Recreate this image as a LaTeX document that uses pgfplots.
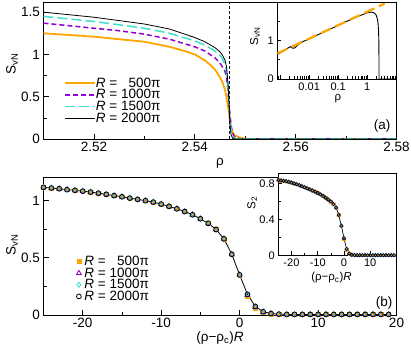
\documentclass[border=0pt]{standalone}
\usepackage{fontspec}
\setmainfont{Liberation Sans}
\usepackage{pgfplots}
\usepackage{pgfplotstable}
\pgfplotsset{compat=1.18}

\definecolor{corange}{HTML}{FFA500}
\definecolor{cpurple}{HTML}{9400D3}
\definecolor{ccyan}{HTML}{40E0D0}

\newcommand{\Svn}{S\textsubscript{vN}}
\newcommand{\ft}[1]{\fontsize{#1}{#1}\selectfont}

\pgfplotsset{
  gp/.style={scale only axis, anchor=south west,
    axis line style={line width=0.8pt}, tick style={line width=0.6pt, black},
    major tick length=5pt, minor tick length=3pt, tick align=inside,
    xtick pos=bottom, ytick pos=left,
    /pgf/number format/assume math mode=true,
    tick label style={font=\ft{13.5}}, label style={font=\ft{13.5}},
    clip mode=individual},
  gpin/.style={gp, axis background/.style={fill=white},
    tick label style={font=\ft{11}}, label style={font=\ft{11.5}},
    major tick length=4pt, minor tick length=2.5pt},
  lineleg/.style={legend image code/.code={\draw[##1] (0pt,0pt) -- (30pt,0pt);}},
  markleg/.style={legend image code/.code={
      \path[draw=none, fill=none] (0pt,-1pt) rectangle (10pt,1pt);
      \draw[##1] plot coordinates {(5pt,0pt)};}},
}

% collapsed data, S_vN against (rho-rho_c)R
\pgfplotstableread{
u    a     b     c     d
-25 1.114 1.114 1.114 1.114
-24 1.108 1.108 1.108 1.108
-23 1.102 1.102 1.102 1.102
-22 1.094 1.094 1.094 1.094
-21 1.088 1.088 1.088 1.088
-20 1.081 1.081 1.081 1.081
-19 1.073 1.073 1.073 1.073
-18 1.063 1.063 1.063 1.063
-17 1.053 1.053 1.053 1.053
-16 1.042 1.042 1.042 1.042
-15 1.032 1.032 1.032 1.032
-14 1.020 1.020 1.020 1.020
-13 1.009 1.009 1.009 1.009
-12 0.998 0.998 0.998 0.998
-11 0.985 0.985 0.985 0.985
-10 0.968 0.968 0.968 0.968
-9  0.948 0.948 0.948 0.948
-8  0.927 0.927 0.927 0.927
-7  0.903 0.903 0.903 0.903
-6  0.875 0.875 0.875 0.875
-5  0.840 0.840 0.840 0.840
-4  0.800 0.800 0.800 0.800
-3  0.746 0.746 0.746 0.746
-2  0.665 0.665 0.665 0.665
-1  0.530 0.530 0.530 0.530
0   0.345 0.350 0.350 0.350
1   0.160 0.175 0.180 0.180
2   0.060 0.070 0.073 0.075
3   0.020 0.026 0.028 0.029
4   0.010 0.012 0.012 0.013
5   0.006 0.007 0.007 0.007
6   0.005 0.005 0.005 0.005
7   0.005 0.005 0.005 0.005
8   0.005 0.005 0.005 0.005
9   0.005 0.005 0.005 0.005
10  0.005 0.005 0.005 0.005
11  0.005 0.005 0.005 0.005
12  0.005 0.005 0.005 0.005
13  0.005 0.005 0.005 0.005
14  0.005 0.005 0.005 0.005
15  0.005 0.005 0.005 0.005
16  0.005 0.005 0.005 0.005
17  0.005 0.005 0.005 0.005
18  0.005 0.005 0.005 0.005
19  0.005 0.005 0.005 0.005
}\collapse

% S_2 against (rho-rho_c)R
\pgfplotstableread{
u    a     b     c     d
-25 0.840 0.840 0.840 0.840
-24 0.835 0.835 0.835 0.835
-23 0.830 0.830 0.830 0.830
-22 0.825 0.825 0.825 0.825
-21 0.818 0.818 0.818 0.818
-20 0.810 0.810 0.810 0.810
-19 0.801 0.801 0.801 0.801
-18 0.792 0.792 0.792 0.792
-17 0.782 0.782 0.782 0.782
-16 0.770 0.770 0.770 0.770
-15 0.758 0.758 0.758 0.758
-14 0.747 0.747 0.747 0.747
-13 0.735 0.735 0.735 0.735
-12 0.722 0.722 0.722 0.722
-11 0.709 0.709 0.709 0.709
-10 0.695 0.695 0.695 0.695
-9  0.680 0.680 0.680 0.680
-8  0.662 0.662 0.662 0.662
-7  0.643 0.643 0.643 0.643
-6  0.622 0.622 0.622 0.622
-5  0.600 0.600 0.600 0.600
-4  0.570 0.570 0.570 0.570
-3  0.530 0.530 0.530 0.530
-2  0.450 0.450 0.450 0.450
-1  0.330 0.330 0.330 0.330
0   0.185 0.190 0.190 0.190
1   0.065 0.070 0.070 0.070
2   0.020 0.020 0.020 0.020
3   0.005 0.005 0.005 0.005
4   0.002 0.002 0.002 0.002
5   0.001 0.001 0.001 0.001
6   0.001 0.001 0.001 0.001
7   0.001 0.001 0.001 0.001
8   0.001 0.001 0.001 0.001
9   0.001 0.001 0.001 0.001
10  0.001 0.001 0.001 0.001
11  0.001 0.001 0.001 0.001
12  0.001 0.001 0.001 0.001
13  0.001 0.001 0.001 0.001
14  0.001 0.001 0.001 0.001
15  0.001 0.001 0.001 0.001
16  0.001 0.001 0.001 0.001
17  0.001 0.001 0.001 0.001
18  0.001 0.001 0.001 0.001
19  0.001 0.001 0.001 0.001
}\renyi

\begin{document}
\begin{tikzpicture}[x=1pt,y=1pt]

% ---------- (a) main ----------
\begin{axis}[gp, lineleg, at={(43.5pt,212pt)}, width=353pt, height=137pt,
  xmin=2.51, xmax=2.58, ymin=0, ymax=1.62,
  xtick={2.52,2.54,2.56,2.58}, minor xtick={2.53,2.55,2.57},
  xticklabel style={/pgf/number format/.cd, fixed, fixed zerofill, precision=2},
  ytick={0,0.5,1,1.5}, minor ytick={0.25,0.75,1.25},
  xlabel={ρ}, ylabel={\Svn},
  xlabel style={at={(axis description cs:0.5,-0.175)}, anchor=center},
  ylabel style={at={(axis description cs:-0.089,0.55)}, anchor=center},
  legend style={at={(axis description cs:0.195,0.28)}, anchor=center,
    draw=none, fill=none, font=\ft{13.5}, row sep=-0.3pt, nodes={inner sep=0.5pt},
    /tikz/every even column/.append style={column sep=7.5pt}},
  legend cell align=left,
]
\addplot[corange, line width=1.8pt] coordinates {
(2.510,1.25)(2.515,1.23)(2.520,1.21)(2.525,1.18)(2.530,1.15)(2.535,1.09)
(2.538,1.04)(2.540,1.00)(2.542,0.93)(2.543,0.88)(2.544,0.82)(2.545,0.73)
(2.5455,0.67)(2.546,0.58)(2.5465,0.42)(2.5468,0.30)(2.5470,0.20)(2.5473,0.11)
(2.5477,0.06)(2.548,0.04)(2.549,0.015)(2.550,0.004)(2.551,0)(2.58,0)};
\addlegendentry{\textit{R} = \hphantom{1}500π}
\addplot[cpurple, line width=1.5pt, dash pattern=on 5pt off 3pt] coordinates {
(2.510,1.37)(2.515,1.34)(2.520,1.31)(2.525,1.28)(2.530,1.24)(2.535,1.18)
(2.540,1.09)(2.542,1.04)(2.544,0.96)(2.545,0.90)(2.546,0.80)(2.5463,0.72)
(2.5466,0.56)(2.5468,0.42)(2.5470,0.27)(2.5473,0.12)(2.5477,0.04)(2.548,0.02)
(2.549,0.003)(2.550,0)(2.58,0)};
\addlegendentry{\textit{R} = 1000π}
\addplot[ccyan, line width=1.5pt, dash pattern=on 10pt off 4pt] coordinates {
(2.510,1.45)(2.515,1.42)(2.520,1.39)(2.525,1.35)(2.530,1.31)(2.535,1.25)
(2.540,1.16)(2.542,1.11)(2.544,1.04)(2.545,0.99)(2.5455,0.95)(2.546,0.88)
(2.5463,0.80)(2.5466,0.60)(2.5468,0.40)(2.5470,0.20)(2.5473,0.07)(2.5477,0.02)
(2.548,0.005)(2.549,0)(2.58,0)};
\addlegendentry{\textit{R} = 1500π}
\addplot[black, line width=0.8pt] coordinates {
(2.510,1.50)(2.515,1.47)(2.520,1.44)(2.525,1.40)(2.530,1.36)(2.535,1.30)
(2.540,1.20)(2.542,1.15)(2.544,1.08)(2.545,1.03)(2.5455,0.99)(2.546,0.93)
(2.5463,0.85)(2.5466,0.65)(2.5468,0.40)(2.5470,0.15)(2.5472,0.05)(2.5475,0.01)
(2.548,0)(2.58,0)};
\addlegendentry{\textit{R} = 2000π}
\addplot[black, line width=0.6pt, dash pattern=on 3pt off 2pt, forget plot]
  coordinates {(2.5468,0)(2.5468,1.62)};
\node[font=\ft{13.5}] at (axis description cs:0.959,0.095) {(a)};
\end{axis}

% ---------- (a) inset ----------
\begin{axis}[gpin, at={(277.3pt,272pt)}, width=119pt, height=77pt,
  xmode=log, xmin=8e-4, xmax=10, ymin=0, ymax=2,
  xtick={0.001,0.01,0.1,1,10}, xticklabels={,0.01,0.1,1,},
  minor xtick={0.0009,0.002,0.003,0.004,0.005,0.006,0.007,0.008,0.009,
    0.02,0.03,0.04,0.05,0.06,0.07,0.08,0.09,0.2,0.3,0.4,0.5,0.6,0.7,0.8,0.9,
    2,3,4,5,6,7,8,9},
  ytick={0,1}, minor ytick={0.5,1.5},
  xlabel={ρ}, ylabel={\Svn},
  xlabel style={at={(axis description cs:0.51,-0.26)}, anchor=center},
  ylabel style={at={(axis description cs:-0.187,0.55)}, anchor=center},
]
\addplot[black, line width=0.9pt] coordinates {
(0.0008,0.64)(0.0012,0.71)(0.0016,0.77)(0.002,0.82)(0.0023,0.84)(0.0027,0.80)
(0.0031,0.80)(0.004,0.88)(0.006,0.97)(0.01,1.04)(0.02,1.15)(0.05,1.29)(0.1,1.39)
(0.2,1.50)(0.5,1.63)(1.0,1.72)(1.3,1.74)(1.7,1.72)(2.0,1.67)(2.2,1.58)(2.35,1.45)
(2.45,1.25)(2.5,1.0)(2.53,0.6)(2.545,0.2)(2.547,0)(10,0)};
\addplot[corange, line width=2.2pt, dash pattern=on 11pt off 5pt] coordinates {
(0.0008,0.664)(4,1.96)};
\end{axis}

% ---------- (b) main ----------
\begin{axis}[gp, markleg, at={(43.5pt,36pt)}, width=353pt, height=137.5pt,
  xmin=-25, xmax=20, ymin=0, ymax=1.2,
  xtick={-20,-10,0,10,20}, minor xtick={-15,-5,5,15},
  ytick={0,0.5,1}, minor ytick={0.25,0.75},
  xlabel={(ρ−ρ\textsubscript{c})\textit{R}}, ylabel={\Svn},
  xlabel style={at={(axis description cs:0.5,-0.167)}, anchor=center},
  ylabel style={at={(axis description cs:-0.089,0.51)}, anchor=center},
  legend style={at={(axis description cs:0.193,0.262)}, anchor=center,
    draw=none, fill=none, font=\ft{13.5}, row sep=-0.3pt, nodes={inner sep=0.5pt},
    /tikz/every even column/.append style={column sep=4pt}},
  legend cell align=left,
]
\addplot[black, line width=0.8pt, forget plot] table[x=u, y=d] {\collapse};
\addplot[only marks, markleg, mark=square*, mark size=1.9pt, color=corange]
  table[x=u, y=a] {\collapse};
\addlegendentry{\textit{R} = \hphantom{1}500π}
\addplot[only marks, markleg, mark=triangle, mark size=2.8pt, color=cpurple,
  mark options={line width=0.8pt}] table[x=u, y=b] {\collapse};
\addlegendentry{\textit{R} = 1000π}
\addplot[only marks, markleg, mark=diamond, mark size=2.6pt, color=ccyan,
  mark options={line width=0.8pt}] table[x=u, y=c] {\collapse};
\addlegendentry{\textit{R} = 1500π}
\addplot[only marks, markleg, mark=o, mark size=2.4pt, color=black,
  mark options={line width=0.8pt}] table[x=u, y=d] {\collapse};
\addlegendentry{\textit{R} = 2000π}
\node[font=\ft{13.5}] at (axis description cs:0.965,0.087) {(b)};
\end{axis}

% ---------- (b) inset ----------
\begin{axis}[gpin, at={(278.3pt,95.7pt)}, width=118.2pt, height=81.6pt,
  xmin=-25, xmax=20, ymin=0, ymax=0.91,
  xtick={-20,-10,0,10}, minor xtick={-15,-5,5,15},
  ytick={0,0.4,0.8}, minor ytick={0.2,0.6},
  xlabel={(ρ−ρ\textsubscript{c})\textit{R}}, ylabel={S\textsubscript{2}},
  xlabel style={at={(axis description cs:0.45,-0.27)}, anchor=center},
  ylabel style={at={(axis description cs:-0.22,0.64)}, anchor=center},
]
\addplot[black, line width=0.7pt] table[x=u, y=d] {\renyi};
\addplot[only marks, mark=square*, mark size=1.3pt, color=corange] table[x=u, y=a] {\renyi};
\addplot[only marks, mark=triangle, mark size=2pt, color=cpurple,
  mark options={line width=0.6pt}] table[x=u, y=b] {\renyi};
\addplot[only marks, mark=diamond, mark size=1.8pt, color=ccyan,
  mark options={line width=0.6pt}] table[x=u, y=c] {\renyi};
\addplot[only marks, mark=o, mark size=1.6pt, color=black,
  mark options={line width=0.6pt}] table[x=u, y=d] {\renyi};
\end{axis}

\pgfresetboundingbox
\useasboundingbox (0,0) rectangle (411,351);
\end{tikzpicture}
\end{document}
